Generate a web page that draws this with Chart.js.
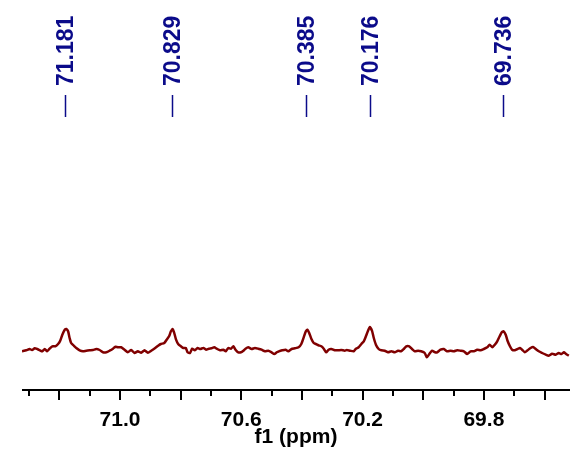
<!DOCTYPE html>
<html>
<head>
<meta charset="utf-8">
<script src="https://cdn.jsdelivr.net/npm/chart.js@4.4.1/dist/chart.umd.min.js"></script>
<style>
  html, body { margin: 0; padding: 0; background: #fff; }
  #wrap { width: 575px; height: 462px; }
</style>
</head>
<body>
<div id="wrap"><canvas id="nmr"></canvas></div>
<script>
// f1 axis range (ppm)
const ppmMax = 71.323;
const ppmMin = 69.516;
const tickLabels = ['71.0', '70.6', '70.2', '69.8'];

// picked peaks
const peaks = [71.181, 70.829, 70.385, 70.176, 69.736];

// traced spectrum: chemical shift and intensity (arbitrary units)
const shift = [
  71.323, 71.309, 71.298, 71.290, 71.281, 71.273, 71.264, 71.256, 71.248, 71.240,
  71.232, 71.223, 71.213, 71.204, 71.197, 71.190, 71.182, 71.177, 71.171, 71.166,
  71.161, 71.152, 71.144, 71.133, 71.122, 71.111, 71.100, 71.089, 71.078, 71.067,
  71.056, 71.045, 71.034, 71.023, 71.015, 71.007, 70.996, 70.985, 70.974, 70.963,
  70.952, 70.941, 70.930, 70.919, 70.908, 70.897, 70.886, 70.873, 70.865, 70.854,
  70.846, 70.838, 70.832, 70.826, 70.821, 70.815, 70.808, 70.799, 70.791, 70.783,
  70.777, 70.769, 70.762, 70.753, 70.744, 70.735, 70.725, 70.716, 70.707, 70.698,
  70.689, 70.681, 70.670, 70.659, 70.651, 70.643, 70.634, 70.626, 70.619, 70.610,
  70.601, 70.593, 70.586, 70.577, 70.566, 70.555, 70.544, 70.533, 70.522, 70.511,
  70.500, 70.491, 70.483, 70.476, 70.465, 70.454, 70.445, 70.434, 70.423, 70.411,
  70.402, 70.394, 70.387, 70.382, 70.376, 70.369, 70.361, 70.354, 70.345, 70.336,
  70.328, 70.320, 70.312, 70.303, 70.292, 70.281, 70.270, 70.259, 70.252, 70.241,
  70.229, 70.222, 70.213, 70.204, 70.196, 70.189, 70.182, 70.176, 70.169, 70.163,
  70.156, 70.147, 70.138, 70.127, 70.116, 70.105, 70.094, 70.083, 70.073, 70.064,
  70.056, 70.046, 70.037, 70.028, 70.017, 70.007, 69.995, 69.988, 69.980, 69.971,
  69.961, 69.954, 69.943, 69.932, 69.921, 69.910, 69.899, 69.888, 69.877, 69.866,
  69.855, 69.844, 69.833, 69.822, 69.811, 69.800, 69.789, 69.781, 69.772, 69.764,
  69.756, 69.748, 69.741, 69.735, 69.728, 69.722, 69.714, 69.707, 69.698, 69.689,
  69.681, 69.674, 69.665, 69.656, 69.646, 69.638, 69.629, 69.619, 69.608, 69.596,
  69.586, 69.575, 69.563, 69.553, 69.544, 69.536, 69.529, 69.520
];
const intensity = [
  -1.3, -0.3, 1.0, 0.0, 1.7, 1.0, -0.3, -1.3, 1.0, -1.3,
  1.3, 3.7, 3.7, 6.0, 9.3, 15.3, 20.3, 21.0, 18.7, 12.0,
  7.0, 4.3, 2.0, -0.3, -1.3, -0.7, -0.3, 0.0, 1.0, 0.0,
  -2.3, -2.3, -0.7, 1.3, 3.3, 2.7, 2.7, 0.3, -2.3, 0.0,
  -3.0, -1.3, -2.7, -0.3, -2.7, -0.7, 1.5, 4.5, 6.0, 7.0,
  10.3, 13.7, 18.7, 21.0, 17.0, 10.3, 6.0, 3.7, 2.0, 2.0,
  -2.3, -3.0, 1.3, -0.3, 2.0, 1.0, 2.0, 0.3, 1.3, 1.7,
  2.7, 1.3, -0.3, 0.3, -1.3, 2.0, 1.3, 3.7, 0.3, -2.3,
  -2.3, -0.7, 1.3, 2.7, 1.0, 2.0, 1.3, 0.3, -1.3, -0.7,
  -2.3, -4.0, -2.3, -1.3, -0.3, 0.3, -1.3, 1.0, 1.7, 2.7,
  6.0, 12.7, 18.7, 20.3, 17.0, 11.3, 7.0, 6.0, 4.7, 3.7,
  1.3, -2.3, 0.3, 1.0, -0.3, -0.3, 0.0, -0.7, 0.0, -0.7,
  -1.3, 1.3, 2.7, 6.0, 8.7, 13.7, 19.3, 23.0, 19.3, 12.0,
  5.3, 1.0, -0.3, -0.7, -2.3, -1.3, -2.3, -0.7, -1.3, 1.0,
  3.7, 3.7, 1.0, -1.3, -0.7, -1.3, -3.0, -7.3, -4.0, -0.7,
  -2.3, -2.3, 0.3, 1.0, -1.3, -0.7, -1.3, -0.3, -0.7, -1.3,
  -4.0, -1.3, -1.3, 0.3, -0.3, 1.0, 2.7, 5.3, 2.7, 5.3,
  8.7, 13.7, 17.7, 18.7, 15.3, 9.3, 3.7, 0.3, -0.3, 1.0,
  2.0, 0.3, -2.3, -0.3, 2.0, 3.0, 1.0, -1.3, -3.0, -4.7,
  -5.7, -3.7, -4.7, -3.0, -4.0, -2.3, -4.0, -5.7
];

const labelColor = '#0b0b8a';
const traceColor = '#800000';
const fontFamily = '"Liberation Sans", Arial, sans-serif';

// axis line, long/short ticks and peak labels
const nmrDecor = {
  id: 'nmrDecor',
  afterDraw(chart) {
    const ctx = chart.ctx;
    const xs = chart.scales.x;
    const area = chart.chartArea;
    ctx.save();
    ctx.strokeStyle = '#000';
    ctx.lineWidth = 2;
    ctx.beginPath();
    ctx.moveTo(area.left, area.bottom);
    ctx.lineTo(area.right, area.bottom);
    ctx.stroke();
    xs.ticks.forEach(t => {
      const px = Math.round(xs.getPixelForValue(t.value));
      const even = Math.round(t.value * 10) % 2 === 0;
      ctx.beginPath();
      ctx.moveTo(px, area.bottom);
      ctx.lineTo(px, area.bottom + (even ? 10 : 6));
      ctx.stroke();
    });

    ctx.strokeStyle = labelColor;
    ctx.fillStyle = labelColor;
    ctx.lineWidth = 1.5;
    ctx.font = 'bold 23px ' + fontFamily;
    peaks.forEach(p => {
      const px = Math.round(xs.getPixelForValue(p)) + 0.5;
      ctx.beginPath();
      ctx.moveTo(px, 95);
      ctx.lineTo(px, 117);
      ctx.stroke();
      ctx.save();
      ctx.translate(px, 86);
      ctx.rotate(-Math.PI / 2);
      ctx.textAlign = 'left';
      ctx.textBaseline = 'middle';
      ctx.fillText(p.toFixed(3), 0, 1);
      ctx.restore();
    });
    ctx.restore();
  }
};

new Chart(document.getElementById('nmr'), {
  type: 'line',
  data: {
    datasets: [{
      data: shift.map((s, i) => ({ x: s, y: intensity[i] })),
      borderColor: traceColor,
      borderWidth: 2.5,
      pointRadius: 0,
      tension: 0.2,
      fill: false
    }]
  },
  options: {
    responsive: true,
    maintainAspectRatio: false,
    animation: false,
    layout: { padding: { left: 22, right: 5, top: 130, bottom: 0 } },
    plugins: { legend: { display: false }, tooltip: { enabled: false } },
    scales: {
      x: {
        type: 'linear',
        reverse: true,
        min: ppmMin,
        max: ppmMax,
        grid: { display: false, drawTicks: false },
        border: { display: false },
        ticks: {
          stepSize: 0.1,
          includeBounds: false,
          autoSkip: false,
          maxRotation: 0,
          padding: 20,
          color: '#000',
          font: { family: fontFamily, size: 21, weight: 'bold', lineHeight: 1 },
          callback: v => tickLabels.includes(v.toFixed(1)) ? v.toFixed(1) : ''
        },
        title: {
          display: true,
          text: 'f1 (ppm)',
          color: '#000',
          padding: { top: -24.5, bottom: 14.5 },
          font: { family: fontFamily, size: 21, weight: 'bold', lineHeight: 1 }
        }
      },
      y: {
        display: false,
        min: -40,
        max: 220
      }
    }
  },
  plugins: [nmrDecor]
});
</script>
</body>
</html>
